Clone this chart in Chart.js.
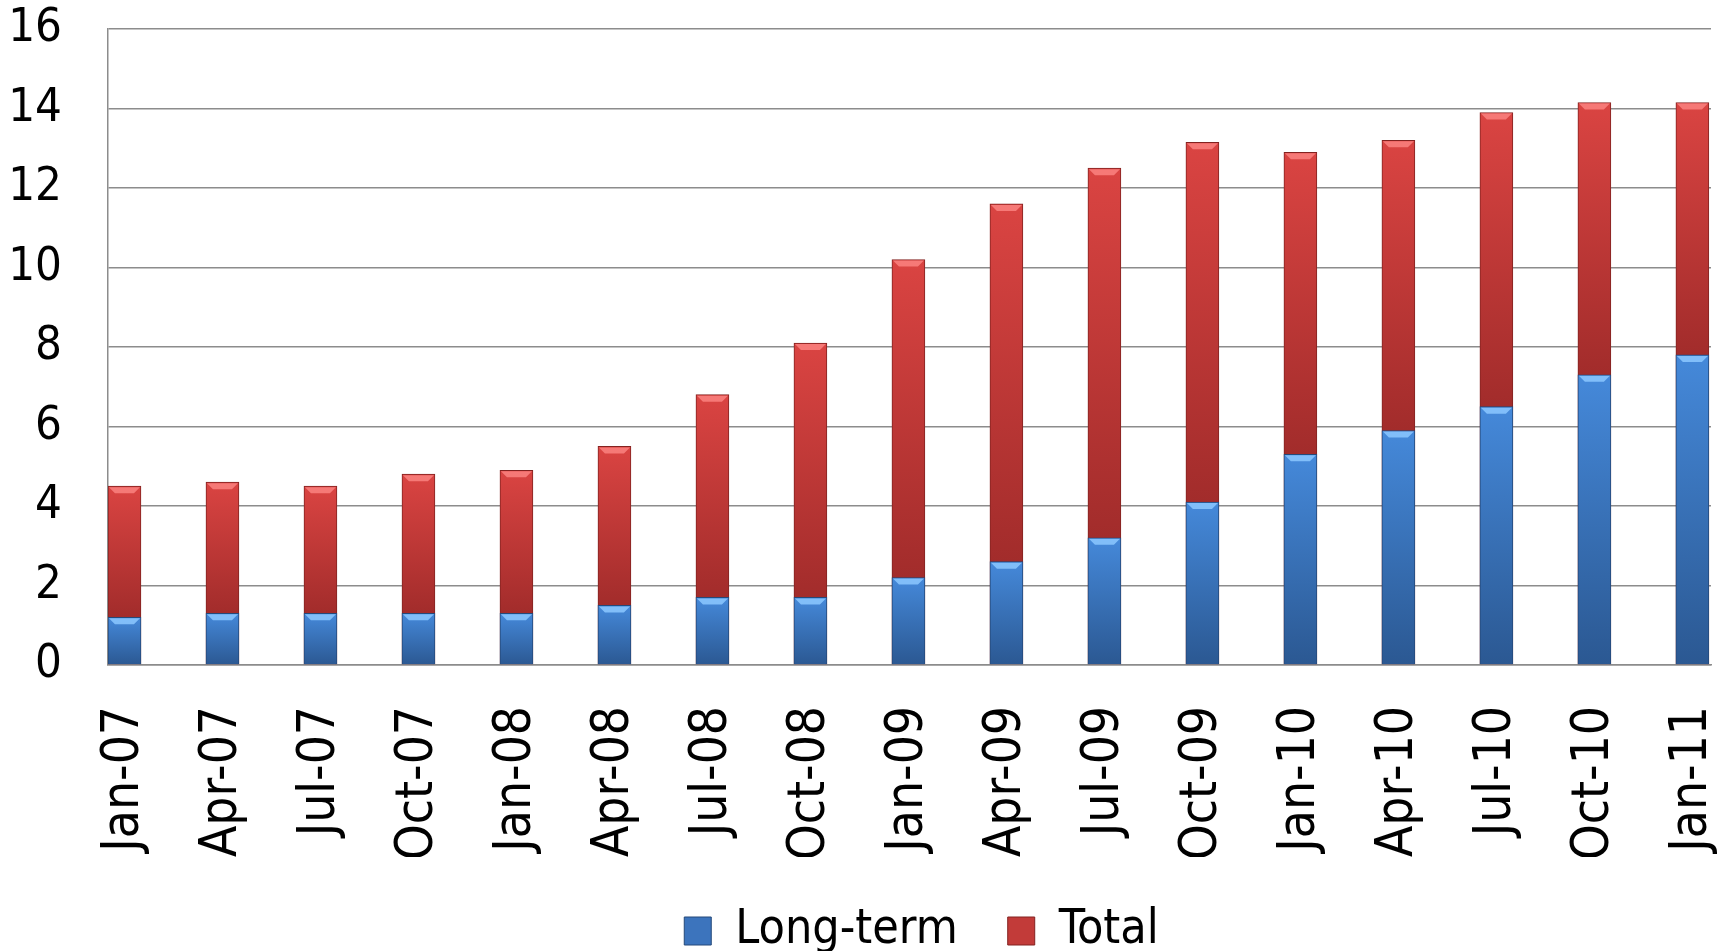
<!DOCTYPE html>
<html>
<head>
<meta charset="utf-8">
<script src="https://cdn.jsdelivr.net/npm/chart.js@4"></script>
<style>
  html, body { margin: 0; padding: 0; background: #fff; }
  #wrap { width: 1730px; height: 951px; }
</style>
</head>
<body>
<div id="wrap"><canvas id="chart"></canvas></div>
<script>
const labels = ['Jan-07', 'Apr-07', 'Jul-07', 'Oct-07', 'Jan-08', 'Apr-08', 'Jul-08', 'Oct-08', 'Jan-09',
  'Apr-09', 'Jul-09', 'Oct-09', 'Jan-10', 'Apr-10', 'Jul-10', 'Oct-10', 'Jan-11']
const longTerm = [1.2, 1.3, 1.3, 1.3, 1.3, 1.5, 1.7, 1.7, 2.2, 2.6, 3.2, 4.1, 5.3, 5.9, 6.5, 7.3, 7.8]
const total = [4.5, 4.6, 4.5, 4.8, 4.9, 5.5, 6.8, 8.1, 10.2, 11.6, 12.5, 13.15, 12.9, 13.2, 13.9, 14.15, 14.15]
const yTicks = [0, 2, 4, 6, 8, 10, 12, 14, 16]

const fontFamily = '"DejaVu Sans Condensed", "DejaVu Sans", sans-serif'
const gridColor = '#8c8c8c'

// vertical gradient for the visible part of each bar
const barFill = function(top, bottom, light, dark, fallback){
  return function(context){
    const chart = context.chart
    if (!chart.chartArea || context.dataIndex === undefined) return fallback
    const y = chart.scales.y
    const i = context.dataIndex
    const y0 = y.getPixelForValue(top[i])
    const y1 = y.getPixelForValue(bottom ? bottom[i] : 0)
    if (!isFinite(y0) || !isFinite(y1) || y0 === y1) return fallback
    const g = chart.ctx.createLinearGradient(0, y0, 0, y1)
    g.addColorStop(0, light)
    g.addColorStop(1, dark)
    return g
  }
}

// light bevel on the top edge of every bar, like the office 2007 style
const bevelColors = ['rgba(140, 200, 255, 0.85)', 'rgba(250, 130, 128, 0.85)']
const bevel = {
  id: 'bevel',
  afterDatasetsDraw(chart) {
    const ctx = chart.ctx
    ctx.save()
    for (let d = chart.data.datasets.length - 1; d >= 0; d--) {
      let meta = chart.getDatasetMeta(d)
      for (let bar of meta.data) {
        let half = bar.width / 2
        let b = 7
        ctx.fillStyle = bevelColors[d]
        ctx.beginPath()
        ctx.moveTo(bar.x - half + 1, bar.y + 1)
        ctx.lineTo(bar.x + half - 1, bar.y + 1)
        ctx.lineTo(bar.x + half - b, bar.y + b)
        ctx.lineTo(bar.x - half + b, bar.y + b)
        ctx.closePath()
        ctx.fill()
      }
    }
    ctx.restore()
  }
}

const shiftLegend = {
  id: 'shiftLegend',
  afterLayout(chart) {
    chart.legend.left += 62
    chart.legend.right += 62
  }
}

let chart = new Chart(document.getElementById('chart'), {
  type: 'bar',
  data: {
    datasets: [{
      label: 'Long-term',
      data: labels.map((l, i) => ({ x: i, y: longTerm[i] })),
      backgroundColor: barFill(longTerm, null, '#4589da', '#2b5892', '#3c74bd'),
      borderColor: '#25497a',
      borderWidth: 1,
      barThickness: 33
    }, {
      label: 'Total',
      data: labels.map((l, i) => ({ x: i, y: total[i] })),
      backgroundColor: barFill(total, longTerm, '#da4442', '#a22c2b', '#c23b39'),
      borderColor: '#832220',
      borderWidth: 1,
      barThickness: 33
    }]
  },
  options: {
    responsive: true,
    maintainAspectRatio: false,
    animation: false,
    layout: {
      padding: { left: 8, top: 29, right: 19, bottom: -14 }
    },
    plugins: {
      tooltip: { enabled: false },
      legend: {
        display: true,
        position: 'bottom',
        labels: {
          font: { family: fontFamily, size: 48 },
          color: '#000',
          boxWidth: 27,
          boxHeight: 28,
          padding: 50,
          generateLabels: () => [
            { text: 'Long-term', fillStyle: '#3c74bd', strokeStyle: '#25497a', lineWidth: 1, datasetIndex: 0 },
            { text: 'Total', fillStyle: '#c23b39', strokeStyle: '#832220', lineWidth: 1, datasetIndex: 1 }
          ]
        }
      }
    },
    scales: {
      x: {
        type: 'linear',
        offset: false,
        stacked: true,
        min: -0.168,
        max: 16.19,
        afterBuildTicks: axis => { axis.ticks = labels.map((l, i) => ({ value: i })) },
        afterFit: axis => {
          axis.height = 192
          axis.paddingLeft = 0
          axis.paddingRight = 0
        },
        grid: { display: false, drawTicks: false, offset: false },
        border: { display: true, color: gridColor, width: 1.5 },
        ticks: {
          autoSkip: false,
          minRotation: 90,
          maxRotation: 90,
          padding: 41,
          color: '#000',
          font: { family: fontFamily, size: 51 },
          callback: value => labels[value]
        }
      },
      y: {
        stacked: false,
        min: 0,
        max: 16,
        afterBuildTicks: axis => { axis.ticks = yTicks.map(v => ({ value: v })) },
        afterFit: axis => {
          axis.width = 100
          axis.paddingTop = 0
          axis.paddingBottom = 0
        },
        grid: { color: gridColor, lineWidth: 1.5, drawTicks: false },
        border: { display: true, color: gridColor, width: 1.5 },
        ticks: {
          padding: 46,
          color: '#000',
          font: { family: fontFamily, size: 47 }
        }
      }
    }
  },
  plugins: [bevel, shiftLegend]
})
</script>
</body>
</html>
